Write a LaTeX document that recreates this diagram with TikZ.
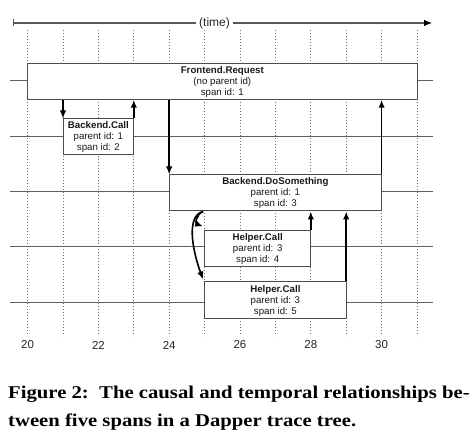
\documentclass[tikz,border=0pt]{standalone}
\usepackage{fontspec}
\setmainfont{Liberation Sans}
\newfontfamily\capfont{Liberation Serif}
\usetikzlibrary{arrows.meta,calc}
\tikzset{
  lane/.style={draw=black!62, line width=1pt},
  dotline/.style={draw=black!55, line width=0.9pt, dash pattern=on 0.9pt off 2.1pt},
  spanbox/.style={draw=black!70, line width=1pt, fill=white, inner sep=0pt, align=center,
    font=\fontsize{9.7}{11}\selectfont, text=black!90},
  callarrow/.style={draw=black, line width=1.6pt, -{Latex[length=8pt,width=6.5pt]}},
  ticklabel/.style={font=\fontsize{11.5}{13}\selectfont, text=black!85, inner sep=0pt},
  caption/.style={anchor=base west, inner sep=0pt, font=\capfont\bfseries\fontsize{18}{21}\selectfont},
}
\begin{document}
\begin{tikzpicture}[x=1pt,y=-1pt]
\useasboundingbox (0,0) rectangle (475,443);
% time columns
\coordinate (t20) at (27.6,0);
\coordinate (t21) at (63.0,0);
\coordinate (t22) at (98.4,0);
\coordinate (t23) at (133.8,0);
\coordinate (t24) at (169.2,0);
\coordinate (t25) at (204.6,0);
\coordinate (t26) at (240.0,0);
\coordinate (t27) at (275.4,0);
\coordinate (t28) at (310.8,0);
\coordinate (t29) at (346.2,0);
\coordinate (t30) at (381.6,0);
\coordinate (t31) at (417.0,0);
% dotted grid
\foreach \t in {20,...,31}
  \draw[dotline] ([yshift=-30pt]t\t) -- ([yshift=-336pt]t\t);
% lanes
\foreach \y in {81,137,192,247,303}
  \draw[lane] (10,\y) -- (433,\y);
% time axis
\coordinate (axL) at (13,23);
\coordinate (axR) at (432,23);
\draw[draw=black!65, line width=1.1pt, {Bar[width=7pt]}-{Latex[length=8pt,width=6.5pt,color=black]}] (axL) -- (axR);
\node[fill=white, inner xsep=3pt, inner ysep=1pt, font=\fontsize{12}{13}\selectfont, text=black!85] (timelbl) at (214.5,23) {(time)};
% spans
\node[spanbox, minimum width=389.4pt, minimum height=35.3pt] (fe) at (222.3,81.6)
  {\textbf{Frontend.Request}\\(no parent id)\\span id: 1};
\node[spanbox, minimum width=70.8pt, minimum height=36pt] (bc) at (98.4,137)
  {\textbf{Backend.Call}\\parent id: 1\\span id: 2};
\node[spanbox, minimum width=212.4pt, minimum height=36pt] (ds) at (275.4,193)
  {\textbf{Backend.DoSomething}\\parent id: 1\\span id: 3};
\node[spanbox, minimum width=106.2pt, minimum height=36pt] (h4) at (257.7,249)
  {\textbf{Helper.Call}\\parent id: 3\\span id: 4};
\node[spanbox, minimum width=141.6pt, minimum height=37pt] (h5) at (275.4,300.5)
  {\textbf{Helper.Call}\\parent id: 3\\span id: 5};
% calls and returns
\draw[callarrow] (fe.south -| t21) -- (bc.north -| t21);
\draw[callarrow] (bc.north -| t23) -- (fe.south -| t23);
\draw[callarrow] (fe.south -| t24) -- (ds.north -| t24);
\draw[callarrow] (ds.north -| t30) -- (fe.south -| t30);
\draw[callarrow] (h4.north -| t28) -- (ds.south -| t28);
\draw[callarrow] (h5.north -| t29) -- (ds.south -| t29);
\draw[callarrow] ($(ds.south -| t25)+(-1.5,0)$) .. controls +(-7,3) and +(-8,-3) .. ($(h4.north west)+(-1,-4)$);
\draw[callarrow] ($(ds.south -| t25)+(-1.5,0)$) .. controls +(-17,4) and +(-11,-30) .. ($(h5.north west)+(-1,-2)$);
% tick labels
\foreach \t in {20,22,...,30}
  \node[ticklabel] (lbl\t) at ([yshift=-345pt]t\t) {\t};
% caption
\node[caption] (cap1) at (8,399) {\scalebox{1.15}[1]{Figure 2:\ \ The causal and temporal relationships be-}};
\node[caption] (cap2) at (8,426.5) {\scalebox{1.15}[1]{tween five spans in a Dapper trace tree.}};
\end{tikzpicture}
\end{document}
